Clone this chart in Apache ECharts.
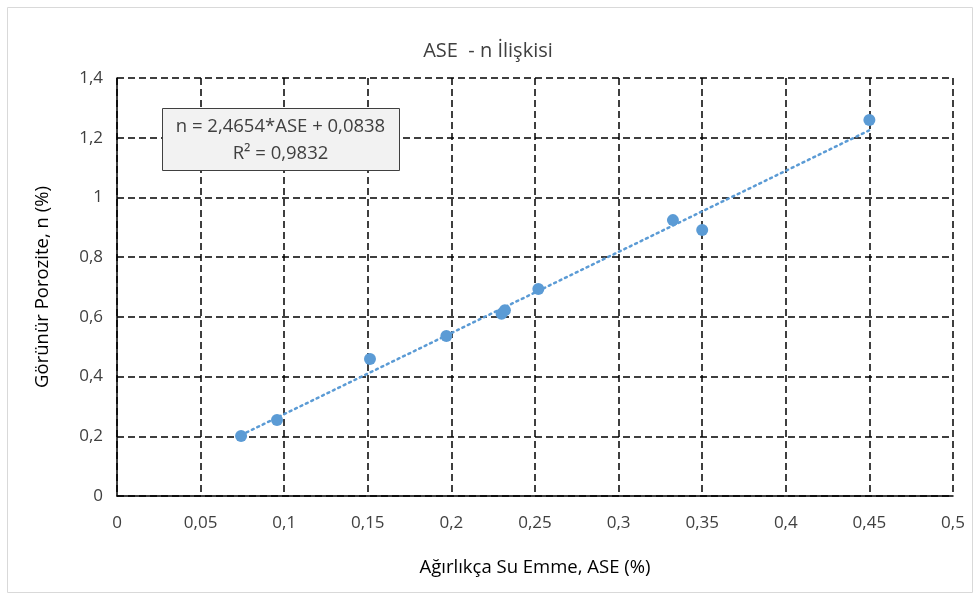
<!DOCTYPE html>
<html><head><meta charset="utf-8">
<script src="https://cdn.jsdelivr.net/npm/echarts@6/dist/echarts.min.js"></script>
<style>html,body{margin:0;padding:0;background:#fff}#c{width:976px;height:595px}</style>
</head><body><div id="c"></div>
<script>
const aseValues = [0.0742, 0.0957, 0.1513, 0.197, 0.230, 0.232, 0.252, 0.3325, 0.350, 0.450];
const nValues   = [0.201, 0.2545, 0.459, 0.536, 0.610, 0.622, 0.693, 0.924, 0.891, 1.259];
const titleText = 'ASE  - n İlişkisi';
const xName = 'Ağırlıkça Su Emme, ASE (%)';
const yName = 'Görünür Porozite, n (%)';
const eqLines = ['n = 2,4654*ASE + 0,0838', 'R² = 0,9832'];

const pts = aseValues.map((x, i) => [x, nValues[i]]);
// least-squares trendline computed from the data
const mx = aseValues.reduce((a, b) => a + b, 0) / aseValues.length;
const my = nValues.reduce((a, b) => a + b, 0) / nValues.length;
let sxy = 0, sxx = 0;
aseValues.forEach((x, i) => { sxy += (x - mx) * (nValues[i] - my); sxx += (x - mx) * (x - mx); });
const slope = sxy / sxx, icpt = my - slope * mx;
const xmin = Math.min(...aseValues), xmax = Math.max(...aseValues);
const trend = [[xmin, slope * xmin + icpt], [xmax, slope * xmax + icpt]];

const fmt = v => String(Math.round(v * 1000) / 1000).replace('.', ',');
const font = '"Open Sans", "Noto Sans", sans-serif';
const chart = echarts.init(document.getElementById('c'));
chart.setOption({
  animation: false,
  title: { text: titleText, left: 'center', top: 36, textStyle: { fontFamily: font, fontSize: 20, fontWeight: 'normal', color: '#404040' } },
  grid: { left: 117, right: 23, top: 78, bottom: 99 },
  xAxis: {
    type: 'value', min: 0, max: 0.5, interval: 0.05,
    name: xName, nameLocation: 'middle', nameGap: 62,
    nameTextStyle: { fontFamily: font, fontSize: 18.5, color: '#000' },
    axisLine: { show: true, lineStyle: { color: '#000', width: 1.5 } },
    axisTick: { show: false },
    axisLabel: { formatter: fmt, margin: 19, fontFamily: font, fontSize: 17, color: '#404040' },
    splitLine: { show: true, lineStyle: { color: '#000', type: [7, 4], width: 1.5 } }
  },
  yAxis: {
    type: 'value', min: 0, max: 1.4, interval: 0.2,
    name: yName, nameLocation: 'middle', nameGap: 65, nameRotate: 90,
    nameTextStyle: { fontFamily: font, fontSize: 18.5, color: '#000' },
    axisLine: { show: true, lineStyle: { color: '#000', width: 1.5 } },
    axisTick: { show: false },
    axisLabel: { formatter: fmt, margin: 14, fontFamily: font, fontSize: 17, color: '#404040' },
    splitLine: { show: true, lineStyle: { color: '#000', type: [7, 4], width: 1.5 } }
  },
  series: [
    { type: 'line', data: trend, symbol: 'none', z: 2,
      lineStyle: { color: '#5B9BD5', width: 2.5, type: [2, 4], cap: 'round' } },
    { type: 'scatter', data: pts, symbolSize: 12, z: 3,
      itemStyle: { color: '#5B9BD5', opacity: 1 } }
  ],
  graphic: [
    { type: 'rect', left: 5, top: 5, shape: { width: 965, height: 585 }, style: { fill: 'none', stroke: '#d9d9d9', lineWidth: 1 }, silent: true },
    { type: 'rect', left: 162, top: 108, z: 10, shape: { width: 237, height: 62 }, style: { fill: '#f2f2f2', stroke: '#404040', lineWidth: 1 } },
    { type: 'text', z: 11, x: 280.5, y: 140, style: { text: eqLines.join('\n'), fontFamily: font, fontSize: 18.5, fill: '#404040', align: 'center', verticalAlign: 'middle', lineHeight: 27 } }
  ]
});
</script></body></html>
